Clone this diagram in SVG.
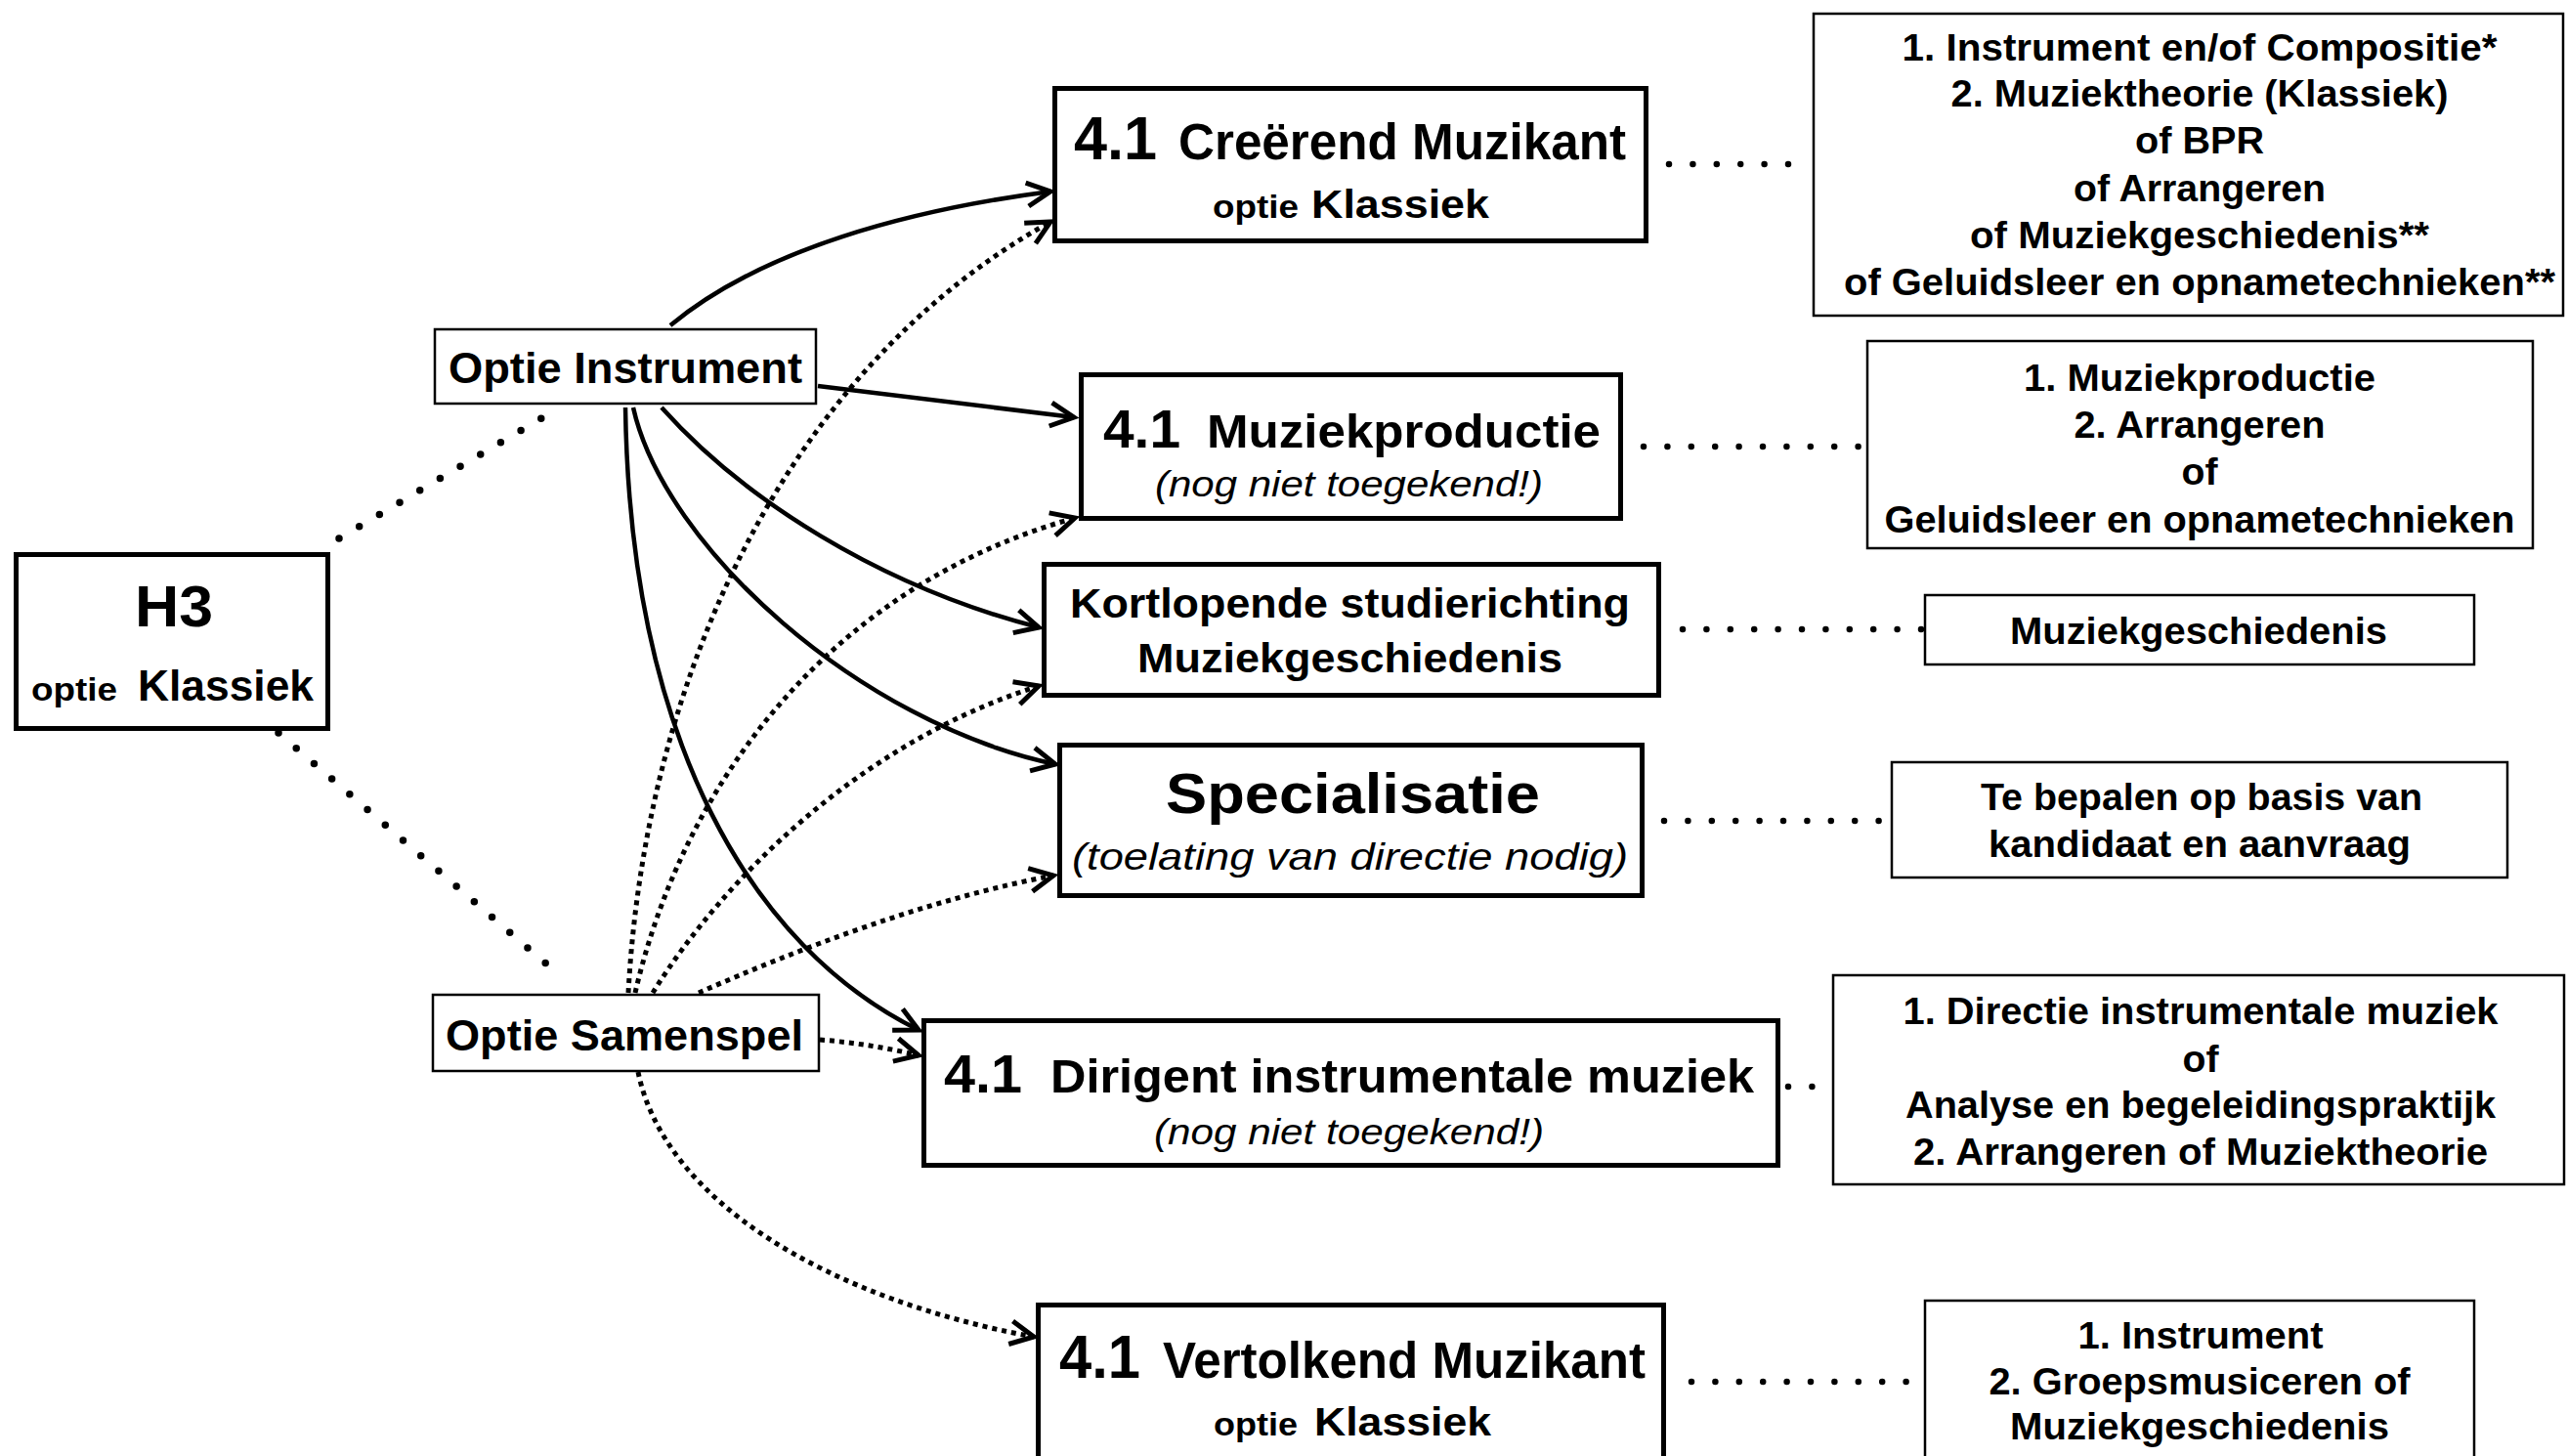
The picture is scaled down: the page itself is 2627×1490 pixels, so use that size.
<svg xmlns="http://www.w3.org/2000/svg" width="2627" height="1490" viewBox="0 0 2627 1490">
<defs>
<style>
.b{font-family:"Liberation Sans",Arial,sans-serif;font-weight:bold;fill:#000}
.i{font-family:"Liberation Sans",Arial,sans-serif;font-style:italic;fill:#000}
.m{text-anchor:middle}
.thick{fill:#fff;stroke:#000;stroke-width:5}
.thin{fill:#fff;stroke:#000;stroke-width:2.5}
.sol{fill:none;stroke:#000;stroke-width:4.5;marker-end:url(#ah)}
.dt{fill:none;stroke:#000;stroke-width:5;stroke-dasharray:5 5;marker-end:url(#ah)}
.rd{fill:none;stroke:#000;stroke-width:7.5;stroke-linecap:round;stroke-dasharray:0 24.05}
.sd{fill:none;stroke:#000;stroke-width:6.5;stroke-linecap:round;stroke-dasharray:0 24.4}
</style>
<marker id="ah" viewBox="-32 -20 36 40" refX="0" refY="0" markerWidth="36" markerHeight="40" markerUnits="userSpaceOnUse" orient="auto" overflow="visible">
<path d="M-24,-12 L0,0 L-24,12" fill="none" stroke="#000" stroke-width="5" stroke-dasharray="none"/>
</marker>
</defs>
<rect width="2627" height="1490" fill="#fff"/>

<g id="connectors">
<line class="rd" x1="347" y1="551" x2="554" y2="428"/>
<line class="rd" x1="285" y1="750" x2="576" y2="1001"/>
<path class="sol" d="M686,333 C780,255 930,215 1075,196"/>
<path class="sol" d="M837,395 L1099,427"/>
<path class="sol" d="M677,417 C760,510 900,600 1063,642"/>
<path class="sol" d="M648,417 C680,560 880,740 1080,782"/>
<path class="sol" d="M640,417 C645,760 770,970 940,1054"/>
<path class="dt" d="M643,1016 C660,700 800,380 1075,227"/>
<path class="dt" d="M650,1016 C700,800 850,600 1100,530"/>
<path class="dt" d="M668,1016 C740,900 880,760 1063,702"/>
<path class="dt" d="M715,1016 C820,970 950,920 1078,896"/>
<path class="dt" d="M839,1064 Q890,1068 940,1080"/>
<path class="dt" d="M653,1097 C680,1230 850,1330 1058,1368"/>
<line class="sd" x1="1708" y1="168" x2="1830.1" y2="168"/>
<line class="sd" x1="1682" y1="457" x2="1901.7" y2="457"/>
<line class="sd" x1="1722" y1="644" x2="1966.1" y2="644"/>
<line class="sd" x1="1703" y1="840" x2="1922.7" y2="840"/>
<line class="sd" x1="1830" y1="1112" x2="1854.5" y2="1112"/>
<line class="sd" x1="1731" y1="1414" x2="1950.7" y2="1414"/>
</g>

<g id="h3">
<rect class="thick" x="16.5" y="567.5" width="319" height="178"/>
<text class="b" x="138" y="641" font-size="60" textLength="80" lengthAdjust="spacingAndGlyphs">H3</text>
<text class="b" x="32" y="717" font-size="34" textLength="88" lengthAdjust="spacingAndGlyphs">optie</text>
<text class="b" x="141" y="717" font-size="45" textLength="180" lengthAdjust="spacingAndGlyphs">Klassiek</text>
</g>

<g id="optie-instrument">
<rect class="thin" x="445" y="337" width="390" height="76"/>
<text class="b" x="459" y="392" font-size="45" textLength="362" lengthAdjust="spacingAndGlyphs">Optie Instrument</text>
</g>

<g id="optie-samenspel">
<rect class="thin" x="443" y="1018" width="395" height="78"/>
<text class="b" x="456" y="1075" font-size="45" textLength="366" lengthAdjust="spacingAndGlyphs">Optie Samenspel</text>
</g>

<g id="creerend">
<rect class="thick" x="1079.5" y="90.5" width="605" height="156"/>
<text class="b" x="1099" y="163" font-size="63" textLength="85" lengthAdjust="spacingAndGlyphs">4.1</text>
<text class="b" x="1206" y="163" font-size="51" textLength="458" lengthAdjust="spacingAndGlyphs">Creërend Muzikant</text>
<text class="b" x="1241" y="223" font-size="34" textLength="88" lengthAdjust="spacingAndGlyphs">optie</text>
<text class="b" x="1342" y="223" font-size="40" textLength="182" lengthAdjust="spacingAndGlyphs">Klassiek</text>
</g>

<g id="muziekproductie">
<rect class="thick" x="1106.5" y="383.5" width="552" height="147"/>
<text class="b" x="1129" y="458" font-size="56" textLength="79" lengthAdjust="spacingAndGlyphs">4.1</text>
<text class="b" x="1235" y="458" font-size="48" textLength="403" lengthAdjust="spacingAndGlyphs">Muziekproductie</text>
<text class="i" x="1182" y="508" font-size="36" textLength="397" lengthAdjust="spacingAndGlyphs">(nog niet toegekend!)</text>
</g>

<g id="kortlopende">
<rect class="thick" x="1068.5" y="577.5" width="629" height="134"/>
<text class="b" x="1095" y="632" font-size="43" textLength="573" lengthAdjust="spacingAndGlyphs">Kortlopende studierichting</text>
<text class="b" x="1164" y="688" font-size="43" textLength="435" lengthAdjust="spacingAndGlyphs">Muziekgeschiedenis</text>
</g>

<g id="specialisatie">
<rect class="thick" x="1084.5" y="762.5" width="596" height="154"/>
<text class="b" x="1193" y="832" font-size="58" textLength="383" lengthAdjust="spacingAndGlyphs">Specialisatie</text>
<text class="i" x="1097" y="890" font-size="39" textLength="569" lengthAdjust="spacingAndGlyphs">(toelating van directie nodig)</text>
</g>

<g id="dirigent">
<rect class="thick" x="945.5" y="1044.5" width="874" height="148"/>
<text class="b" x="966" y="1118" font-size="55" textLength="80" lengthAdjust="spacingAndGlyphs">4.1</text>
<text class="b" x="1075" y="1118" font-size="48" textLength="720" lengthAdjust="spacingAndGlyphs">Dirigent instrumentale muziek</text>
<text class="i" x="1181" y="1171" font-size="36" textLength="399" lengthAdjust="spacingAndGlyphs">(nog niet toegekend!)</text>
</g>

<g id="vertolkend">
<rect class="thick" x="1062.5" y="1335.5" width="640" height="170"/>
<text class="b" x="1084" y="1410" font-size="63" textLength="83" lengthAdjust="spacingAndGlyphs">4.1</text>
<text class="b" x="1190" y="1410" font-size="51" textLength="494" lengthAdjust="spacingAndGlyphs">Vertolkend Muzikant</text>
<text class="b" x="1242" y="1469" font-size="34" textLength="86" lengthAdjust="spacingAndGlyphs">optie</text>
<text class="b" x="1345" y="1469" font-size="40" textLength="181" lengthAdjust="spacingAndGlyphs">Klassiek</text>
</g>

<g id="vak-creerend">
<rect class="thin" x="1856" y="14" width="767" height="309"/>
<text class="b m" x="2251" y="62" font-size="38" textLength="609" lengthAdjust="spacingAndGlyphs">1. Instrument en/of Compositie*</text>
<text class="b m" x="2251" y="109" font-size="38" textLength="509" lengthAdjust="spacingAndGlyphs">2. Muziektheorie (Klassiek)</text>
<text class="b m" x="2251" y="157" font-size="38" textLength="132" lengthAdjust="spacingAndGlyphs">of BPR</text>
<text class="b m" x="2251" y="206" font-size="38" textLength="258" lengthAdjust="spacingAndGlyphs">of Arrangeren</text>
<text class="b m" x="2251" y="254" font-size="38" textLength="470" lengthAdjust="spacingAndGlyphs">of Muziekgeschiedenis**</text>
<text class="b m" x="2251" y="302" font-size="38" textLength="728" lengthAdjust="spacingAndGlyphs">of Geluidsleer en opnametechnieken**</text>
</g>

<g id="vak-muziekproductie">
<rect class="thin" x="1911" y="349" width="681" height="212"/>
<text class="b m" x="2251" y="400" font-size="38" textLength="360" lengthAdjust="spacingAndGlyphs">1. Muziekproductie</text>
<text class="b m" x="2251" y="448" font-size="38" textLength="257" lengthAdjust="spacingAndGlyphs">2. Arrangeren</text>
<text class="b m" x="2251" y="496" font-size="38" textLength="37" lengthAdjust="spacingAndGlyphs">of</text>
<text class="b m" x="2251" y="545" font-size="38" textLength="645" lengthAdjust="spacingAndGlyphs">Geluidsleer en opnametechnieken</text>
</g>

<g id="vak-kortlopende">
<rect class="thin" x="1970" y="609" width="562" height="71"/>
<text class="b m" x="2250" y="659" font-size="38" textLength="386" lengthAdjust="spacingAndGlyphs">Muziekgeschiedenis</text>
</g>

<g id="vak-specialisatie">
<rect class="thin" x="1936" y="780" width="630" height="118"/>
<text class="b m" x="2253" y="829" font-size="38" textLength="452" lengthAdjust="spacingAndGlyphs">Te bepalen op basis van</text>
<text class="b m" x="2251" y="877" font-size="38" textLength="432" lengthAdjust="spacingAndGlyphs">kandidaat en aanvraag</text>
</g>

<g id="vak-dirigent">
<rect class="thin" x="1876" y="998" width="748" height="214"/>
<text class="b m" x="2252" y="1048" font-size="38" textLength="609" lengthAdjust="spacingAndGlyphs">1. Directie instrumentale muziek</text>
<text class="b m" x="2252" y="1097" font-size="38" textLength="37" lengthAdjust="spacingAndGlyphs">of</text>
<text class="b m" x="2252" y="1144" font-size="38" textLength="604" lengthAdjust="spacingAndGlyphs">Analyse en begeleidingspraktijk</text>
<text class="b m" x="2252" y="1192" font-size="38" textLength="588" lengthAdjust="spacingAndGlyphs">2. Arrangeren of Muziektheorie</text>
</g>

<g id="vak-vertolkend">
<rect class="thin" x="1970" y="1331" width="562" height="170"/>
<text class="b m" x="2252" y="1380" font-size="38" textLength="251" lengthAdjust="spacingAndGlyphs">1. Instrument</text>
<text class="b m" x="2251" y="1427" font-size="38" textLength="431" lengthAdjust="spacingAndGlyphs">2. Groepsmusiceren of</text>
<text class="b m" x="2251" y="1473" font-size="38" textLength="388" lengthAdjust="spacingAndGlyphs">Muziekgeschiedenis</text>
</g>
</svg>
